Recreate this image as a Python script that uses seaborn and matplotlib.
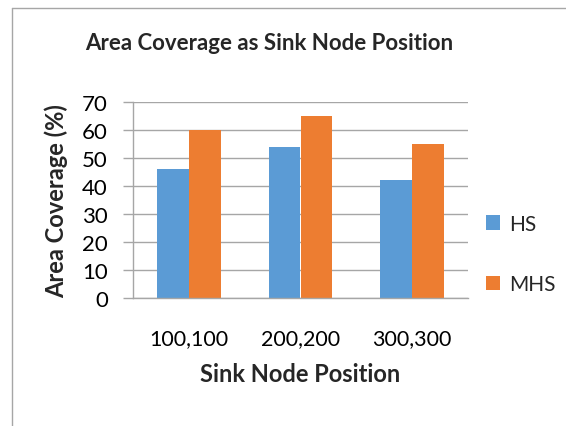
import matplotlib
matplotlib.use("Agg")
import matplotlib.pyplot as plt
import seaborn as sns
import pandas as pd
from matplotlib.lines import Line2D
from matplotlib.patches import Patch

categories = ["100,100", "200,200", "300,300"]
series_names = ["HS", "MHS"]
hs_values = [46, 54, 42]
mhs_values = [60, 65, 55]
y_ticks = [0, 10, 20, 30, 40, 50, 60, 70]

df = pd.DataFrame({
    "Position": categories * 2,
    "Series": [series_names[0]] * 3 + [series_names[1]] * 3,
    "Value": hs_values + mhs_values,
})

sns.set_theme(style="white")
plt.rcParams['font.family'] = ['Lato', 'DejaVu Sans']

colors = {"HS": "#5B9BD5", "MHS": "#ED7D31"}
grid_c = "#A6A6A6"

fig = plt.figure(figsize=(5.66, 4.27), dpi=100)
ax = fig.add_axes([133/566, 1 - 299/427, (468 - 133)/566, (299 - 103)/427])
sns.barplot(data=df, x="Position", y="Value", hue="Series", palette=colors,
            width=0.57, gap=0, ax=ax, legend=False, saturation=1, linewidth=0)

ax.set_ylim(0, 70)
ax.set_xlim(-0.5, 2.5)
ax.set_yticks(y_ticks)
ax.set_yticklabels([str(v) for v in y_ticks], fontsize=16, color="black")
ax.tick_params(axis="x", labelsize=15.5, colors="black", length=0, pad=22)
ax.tick_params(axis="y", length=7, width=1, color=grid_c, pad=11, direction="out", left=True)
ax.yaxis.grid(True, color=grid_c, linewidth=1)
ax.set_axisbelow(True)
for s in ["top", "right"]:
    ax.spines[s].set_visible(False)
for s in ["left", "bottom"]:
    ax.spines[s].set_color(grid_c)
    ax.spines[s].set_linewidth(1)

ax.set_xlabel("Sink Node Position", fontsize=17, fontweight="bold", labelpad=10)
ax.set_ylabel("Area Coverage (%)", fontsize=17, fontweight="bold", labelpad=10)
fig.text(269/566, 1 - 44/427, "Area Coverage as Sink Node Position",
         ha="center", va="center", fontsize=16, fontweight="bold")

handles = [Patch(facecolor=colors[n], edgecolor="none") for n in series_names]
leg = fig.legend(handles, series_names, loc="center left",
                 bbox_to_anchor=(486/566, 1 - 255/427), frameon=False,
                 fontsize=15, handlelength=0.68, handleheight=0.68,
                 handletextpad=0.45, labelspacing=1.95,
                 borderpad=0, borderaxespad=0)

fig.add_artist(Line2D([12/566, 12/566], [0, 1 - 9/427], color=grid_c, linewidth=1))
fig.add_artist(Line2D([12/566, 1], [1 - 9/427, 1 - 9/427], color=grid_c, linewidth=1))

fig.savefig("out.png", dpi=100)
